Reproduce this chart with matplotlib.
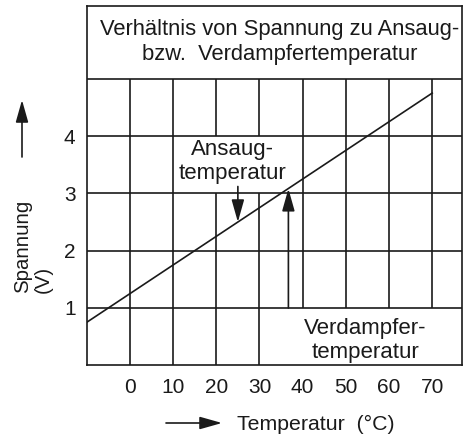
import matplotlib
matplotlib.use("Agg")
import matplotlib.pyplot as plt
from matplotlib.patches import Rectangle, FancyArrowPatch

plt.rcParams["font.family"] = ["Liberation Sans", "DejaVu Sans"]

INK = "#1a1a1a"

# characteristic: voltage over temperature
TEMP = [-10, 70]
VOLT = [0.75, 4.75]

X_TICKS = [0, 10, 20, 30, 40, 50, 60, 70]
Y_TICKS = [1, 2, 3, 4]

TITLE = "Verhältnis von Spannung zu Ansaug-\nbzw.  Verdampfertemperatur"

# marked operating points (temperature, voltage on the line)
SUCTION = (25, 2.5)
EVAP = (36.7, 3.08)

HEAD = "-|>,head_length=0.85,head_width=0.24"

fig = plt.figure(figsize=(4.67, 4.40), dpi=100)
ax = fig.add_axes([0.1857, 0.1698, 0.8036, 0.8166])
ax.set_xlim(-10, 76.9)
ax.set_ylim(0, 6.27)

# grid: verticals only up to the title band
ax.vlines(X_TICKS, 0, 5, color=INK, lw=1.2, zorder=1)
ax.hlines(Y_TICKS + [5], -10, 76.9, color=INK, lw=1.2, zorder=4)

# white label fields that interrupt the grid
ax.add_patch(Rectangle((12, 3), 24, 1, facecolor="white", edgecolor="none", zorder=2))
ax.add_patch(Rectangle((33, 0), 44, 1, facecolor="white", edgecolor="none", zorder=2))

ax.plot(TEMP, VOLT, color=INK, lw=1.2, zorder=5)

ax.annotate("", xy=SUCTION, xytext=(SUCTION[0], 3.12),
            arrowprops=dict(arrowstyle=HEAD, color=INK, lw=1.2, mutation_scale=16,
                            shrinkA=0, shrinkB=0), zorder=6)
ax.annotate("", xy=EVAP, xytext=(EVAP[0], 1.0),
            arrowprops=dict(arrowstyle=HEAD, color=INK, lw=1.2, mutation_scale=16,
                            shrinkA=0, shrinkB=0), zorder=6)

ax.text(23.7, 3.55, "Ansaug-\ntemperatur", ha="center", va="center",
        fontsize=16, color=INK, linespacing=1.2, zorder=6)
ax.text(54.5, 0.43, "Verdampfer-\ntemperatur", ha="center", va="center",
        fontsize=16, color=INK, linespacing=1.2, zorder=6)
ax.text(34.6, 5.64, TITLE, ha="center", va="center",
        fontsize=15.8, color=INK, linespacing=1.3, zorder=6)

ax.set_xticks(X_TICKS)
ax.set_yticks(Y_TICKS)
ax.tick_params(length=0, labelsize=15, colors=INK)
ax.tick_params(axis="x", pad=9)
ax.tick_params(axis="y", pad=8)
for s in ax.spines.values():
    s.set_color(INK)
    s.set_linewidth(1.2)
    s.set_zorder(7)

# axis captions with arrows
W, H = 467, 440
fig.text(23 / W, 1 - 293 / H, "Spannung", rotation=90, ha="center", va="bottom",
         fontsize=14.7, color=INK)
fig.text(43 / W, 1 - 293 / H, "(V)", rotation=90, ha="center", va="bottom",
         fontsize=14.7, color=INK)
fig.add_artist(FancyArrowPatch(
    (22 / W, 1 - 157 / H), (22 / W, 1 - 100 / H), transform=fig.transFigure,
    arrowstyle=HEAD, color=INK, lw=1.2, mutation_scale=16, shrinkA=0, shrinkB=0))
fig.add_artist(FancyArrowPatch(
    (166 / W, 1 - 423 / H), (222 / W, 1 - 423 / H), transform=fig.transFigure,
    arrowstyle=HEAD, color=INK, lw=1.2, mutation_scale=16, shrinkA=0, shrinkB=0))
fig.text(237 / W, 1 - 424 / H, "Temperatur  (°C)", ha="left", va="center",
         fontsize=15.3, color=INK)

fig.savefig("out.png", dpi=100, facecolor="white")
